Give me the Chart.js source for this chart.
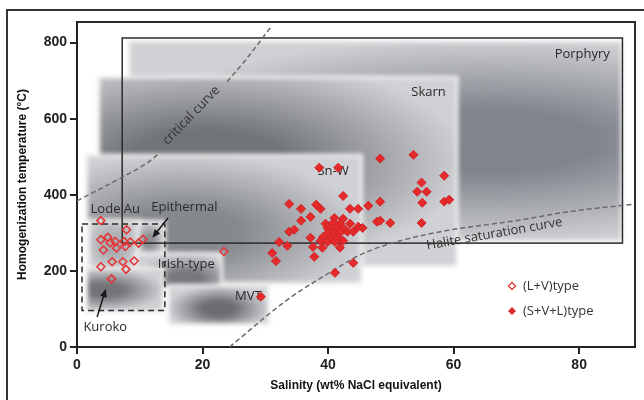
<!DOCTYPE html>
<html>
<head>
<meta charset="utf-8">
<script src="https://cdn.jsdelivr.net/npm/chart.js@4.4.1/dist/chart.umd.min.js"></script>
<style>
html, body { margin: 0; padding: 0; background: #fff; }
#chart { display: block; }
</style>
</head>
<body>
<canvas id="chart" width="644" height="400"></canvas>
<script>
// (L+V) type inclusions - open diamonds
const lvX = [3.8, 7.9, 3.8, 4.9, 5.3, 6.1, 4.2, 6.3, 7.7, 8.5, 9.8, 10.5, 3.8, 5.6, 7.3, 7.8, 9.1, 5.5, 23.4, 7.5];
const lvY = [332, 308, 282, 288, 274, 277, 255, 260, 264, 276, 273, 283, 211, 224, 224, 204, 226, 179, 251, 277];

// (S+V+L) type inclusions - filled diamonds
const svlX = [48.3, 53.6, 38.6, 41.6, 58.5, 54.9, 54.2, 55.7, 42.4, 33.8, 38.1, 38.8, 35.7, 43.5, 44.8, 46.4,
  48.3, 55.0, 58.5, 59.3, 37.2, 35.7, 41.0, 42.4, 39.6, 40.8, 41.9, 43.5, 47.8, 48.3, 49.9, 54.9,
  39.9, 40.7, 41.5, 42.4, 44.8, 45.5, 40.0, 41.0, 41.9, 43.1, 44.0, 33.8, 34.6, 39.2, 40.7, 41.6,
  37.2, 38.8, 39.9, 41.1, 42.4, 32.2, 33.5, 37.6, 39.1, 41.9, 31.1, 31.7, 37.8, 44.0, 41.1, 29.3];
const svlY = [495, 505, 471, 471, 450, 432, 408, 408, 397, 376, 374, 363, 363, 363, 363, 371,
  382, 379, 382, 387, 342, 332, 339, 337, 324, 326, 324, 324, 329, 332, 326, 326,
  313, 313, 313, 313, 316, 313, 300, 300, 300, 303, 303, 303, 308, 289, 287, 287,
  287, 279, 276, 276, 279, 276, 266, 263, 261, 261, 247, 226, 237, 221, 195, 132];

// curves (null leaves the gap where the label sits)
const critX = [0, 7.3, 11.2, 12.8, 18, 23.9, 26.8, 30.8];
const critY = [384, 447, 484, 505, null, 697, 753, 839];
const haliteX = [24.3, 33.5, 40.4, 45.1, 50.4, 57.9, 70.7, 78.1, 89];
const haliteY = [0, 124, 197, 242, 274, 303, 334, 355, 376];

// deposit fields (salinity / temperature ranges)
const fieldNames = ['Porphyry', 'Skarn', 'Sn-W', 'Lode Au', 'Epithermal', 'Irish-type', 'MVT', 'Kuroko'];
const fieldX0 = [8.5, 3.7, 1.75, 2.1, 10, 9.5, 14.8, 1.75];
const fieldX1 = [86.6, 60.3, 45.1, 10, 13.7, 22.8, 30.3, 13.5];
const fieldY0 = [282, 216, 171, 197, 247, 158, 63, 97];
const fieldY1 = [800, 705, 500, 329, 326, 242, 158, 203];
const labelX = [80.5, 56, 40.8, 6.1, 17.1, 17.4, 27.3, 4.5];
const labelY = [768, 668, 461, 361, 366, 218, 134, 53];

// outlined boxes and arrows
const porphyryBox = [7.2, 86.9, 273, 812];
const kurokoBox = [0.8, 14, 96, 323];
const arrowFrom = [[14.5, 339], [3.2, 79]];
const arrowTo = [[12, 287], [4.6, 153]];

const xTicks = [0, 20, 40, 60, 80];
const yTicks = [0, 200, 400, 600, 800];

const LABEL_FONT = '13px "Open Sans", sans-serif';
const shading = [
  [0.72, 0.5, '#80848b'],
  [0.3, 0.45, '#717479'],
  [0.35, 0.6, '#85888c'],
  [0.45, 0.45, '#a9abae'],
  [0.4, 0.6, '#8a8c90'],
  [0.6, 0.75, '#76787c'],
  [0.5, 0.6, '#6a6c70'],
  [0.22, 0.5, '#727478']
];

function arrow(ctx, x0, y0, x1, y1) {
  const ang = Math.atan2(y1 - y0, x1 - x0);
  ctx.beginPath();
  ctx.moveTo(x0, y0);
  ctx.lineTo(x1 - 6 * Math.cos(ang), y1 - 6 * Math.sin(ang));
  ctx.stroke();
  ctx.beginPath();
  ctx.moveTo(x1, y1);
  ctx.lineTo(x1 - 9 * Math.cos(ang - 0.4), y1 - 9 * Math.sin(ang - 0.4));
  ctx.lineTo(x1 - 9 * Math.cos(ang + 0.4), y1 - 9 * Math.sin(ang + 0.4));
  ctx.closePath();
  ctx.fill();
}

const fieldPlugin = {
  id: 'fields',
  beforeDatasetsDraw(chart) {
    const { ctx, chartArea: a, scales: { x, y } } = chart;
    const off = document.createElement('canvas');
    off.width = chart.width;
    off.height = chart.height;
    const o = off.getContext('2d');
    fieldNames.forEach((n, i) => {
      const x0 = x.getPixelForValue(fieldX0[i]), x1 = x.getPixelForValue(fieldX1[i]);
      const y0 = y.getPixelForValue(fieldY1[i]), y1 = y.getPixelForValue(fieldY0[i]);
      const w = x1 - x0, h = y1 - y0;
      const s = shading[i];
      o.fillStyle = '#f2f2f2';
      o.fillRect(x0 - 3, y0 - 3, w + 6, h + 6);
      const cx = x0 + w * s[0], cy = y0 + h * s[1];
      const rx = w * Math.max(s[0], 1 - s[0]) * 1.05;
      const ry = h * Math.max(s[1], 1 - s[1]) * 1.05;
      o.save();
      o.translate(cx, cy);
      o.scale(rx, ry);
      const g = o.createRadialGradient(0, 0, 0, 0, 0, 1);
      g.addColorStop(0, s[2]);
      g.addColorStop(0.3, s[2]);
      g.addColorStop(1, '#d0d1d4');
      o.fillStyle = g;
      o.fillRect((x0 - cx) / rx, (y0 - cy) / ry, w / rx, h / ry);
      o.restore();
    });
    ctx.save();
    ctx.beginPath();
    ctx.rect(a.left, a.top, a.width, a.height);
    ctx.clip();
    ctx.filter = 'blur(2px)';
    ctx.drawImage(off, 0, 0);
    ctx.filter = 'none';

    // field labels
    ctx.fillStyle = '#2a2a2a';
    ctx.font = LABEL_FONT;
    ctx.textAlign = 'center';
    ctx.textBaseline = 'middle';
    fieldNames.forEach((n, i) => {
      ctx.fillText(n, x.getPixelForValue(labelX[i]), y.getPixelForValue(labelY[i]));
    });

    // curve labels
    ctx.fillStyle = '#333';
    ctx.save();
    ctx.translate(x.getPixelForValue(18.2), y.getPixelForValue(608));
    ctx.rotate(-46 * Math.PI / 180);
    ctx.fillText('critical curve', 0, 0);
    ctx.restore();
    ctx.save();
    ctx.translate(x.getPixelForValue(66.5), y.getPixelForValue(297));
    ctx.rotate(-10 * Math.PI / 180);
    ctx.fillText('Halite saturation curve', 0, 0);
    ctx.restore();

    // porphyry outline
    ctx.strokeStyle = '#2b2b2b';
    ctx.lineWidth = 1.5;
    const px0 = x.getPixelForValue(porphyryBox[0]), px1 = x.getPixelForValue(porphyryBox[1]);
    const py0 = y.getPixelForValue(porphyryBox[3]), py1 = y.getPixelForValue(porphyryBox[2]);
    ctx.strokeRect(px0, py0, px1 - px0, py1 - py0);

    // kuroko dashed box
    ctx.setLineDash([6, 4]);
    const kx0 = x.getPixelForValue(kurokoBox[0]), kx1 = x.getPixelForValue(kurokoBox[1]);
    const ky0 = y.getPixelForValue(kurokoBox[3]), ky1 = y.getPixelForValue(kurokoBox[2]);
    ctx.strokeRect(kx0, ky0, kx1 - kx0, ky1 - ky0);
    ctx.setLineDash([]);

    // arrows
    ctx.fillStyle = '#1a1a1a';
    ctx.strokeStyle = '#1a1a1a';
    ctx.lineWidth = 1.5;
    arrowFrom.forEach((f, i) => {
      arrow(ctx, x.getPixelForValue(f[0]), y.getPixelForValue(f[1]),
        x.getPixelForValue(arrowTo[i][0]), y.getPixelForValue(arrowTo[i][1]));
    });
    ctx.restore();
  },
  afterDraw(chart) {
    const { ctx, chartArea: a } = chart;
    ctx.save();
    // top and right of the plot frame
    ctx.strokeStyle = '#2b2b2b';
    ctx.lineWidth = 2;
    ctx.beginPath();
    ctx.moveTo(a.left, a.top);
    ctx.lineTo(a.right, a.top);
    ctx.lineTo(a.right, a.bottom);
    ctx.stroke();
    // figure border
    ctx.strokeStyle = '#333';
    ctx.beginPath();
    ctx.moveTo(7, 400);
    ctx.lineTo(7, 10);
    ctx.lineTo(644, 10);
    ctx.stroke();

    // legend
    const lx = 512, ly = [286, 311];
    ctx.font = LABEL_FONT;
    ctx.textAlign = 'left';
    ctx.textBaseline = 'middle';
    ctx.fillStyle = '#333';
    ['(L+V)type', '(S+V+L)type'].forEach((t, i) => {
      ctx.fillText(t, lx + 11, ly[i]);
    });
    ctx.beginPath();
    ctx.moveTo(lx, ly[0] - 3.5); ctx.lineTo(lx + 3.5, ly[0]);
    ctx.lineTo(lx, ly[0] + 3.5); ctx.lineTo(lx - 3.5, ly[0]); ctx.closePath();
    ctx.strokeStyle = '#e0393a';
    ctx.lineWidth = 1.3;
    ctx.stroke();
    ctx.beginPath();
    ctx.moveTo(lx, ly[1] - 4); ctx.lineTo(lx + 4, ly[1]);
    ctx.lineTo(lx, ly[1] + 4); ctx.lineTo(lx - 4, ly[1]); ctx.closePath();
    ctx.fillStyle = '#df2a2c';
    ctx.fill();
    ctx.restore();
  }
};

const tickFont = { family: '"Liberation Sans", Arial, sans-serif', size: 14, weight: 'bold' };
const titleFont = { family: '"Liberation Sans", Arial, sans-serif', size: 12, weight: 'bold' };

new Chart(document.getElementById('chart'), {
  type: 'scatter',
  data: {
    datasets: [
      {
        label: '(S+V+L)type',
        data: svlX.map((v, i) => ({ x: v, y: svlY[i] })),
        pointStyle: 'rectRot',
        pointRadius: 4.5,
        backgroundColor: '#e52a2c',
        borderColor: '#d02225',
        borderWidth: 1
      },
      {
        label: '(L+V)type',
        data: lvX.map((v, i) => ({ x: v, y: lvY[i] })),
        pointStyle: 'rectRot',
        pointRadius: 4,
        backgroundColor: 'rgba(255,255,255,0)',
        borderColor: '#e53335',
        borderWidth: 1.5
      },
      {
        label: 'critical curve',
        data: critX.map((v, i) => ({ x: v, y: critY[i] })),
        showLine: true,
        spanGaps: false,
        pointRadius: 0,
        borderColor: '#6a6a6a',
        borderWidth: 1.5,
        borderDash: [5, 3],
        cubicInterpolationMode: 'monotone'
      },
      {
        label: 'halite saturation curve',
        data: haliteX.map((v, i) => ({ x: v, y: haliteY[i] })),
        showLine: true,
        pointRadius: 0,
        borderColor: '#6a6a6a',
        borderWidth: 1.5,
        borderDash: [5, 3],
        cubicInterpolationMode: 'monotone'
      }
    ]
  },
  options: {
    responsive: false,
    animation: false,
    events: [],
    layout: { padding: { top: 22, right: 9, left: 0, bottom: 0 } },
    plugins: { legend: { display: false }, tooltip: { enabled: false } },
    scales: {
      x: {
        type: 'linear',
        min: 0,
        max: 88.9,
        afterBuildTicks: s => { s.ticks = xTicks.map(v => ({ value: v })); },
        afterFit: s => { s.height = 53; },
        ticks: { font: tickFont, color: '#222', padding: 3, maxRotation: 0 },
        grid: { drawOnChartArea: false, drawTicks: true, tickLength: 7, color: '#222', lineWidth: 2 },
        border: { color: '#222', width: 2 },
        title: { display: true, text: 'Salinity (wt% NaCl equivalent)', font: titleFont, color: '#111', padding: { top: 0, bottom: 7 } }
      },
      y: {
        type: 'linear',
        min: 0,
        max: 854,
        afterBuildTicks: s => { s.ticks = yTicks.map(v => ({ value: v })); },
        afterFit: s => { s.width = 77; },
        ticks: { font: tickFont, color: '#222', padding: 3 },
        grid: { drawOnChartArea: false, drawTicks: true, tickLength: 7, color: '#222', lineWidth: 2 },
        border: { color: '#222', width: 2 },
        title: { display: true, text: 'Homogenization temperature (°C)', font: titleFont, color: '#111', padding: { top: 15, bottom: 0 } }
      }
    }
  },
  plugins: [fieldPlugin]
});
</script>
</body>
</html>
